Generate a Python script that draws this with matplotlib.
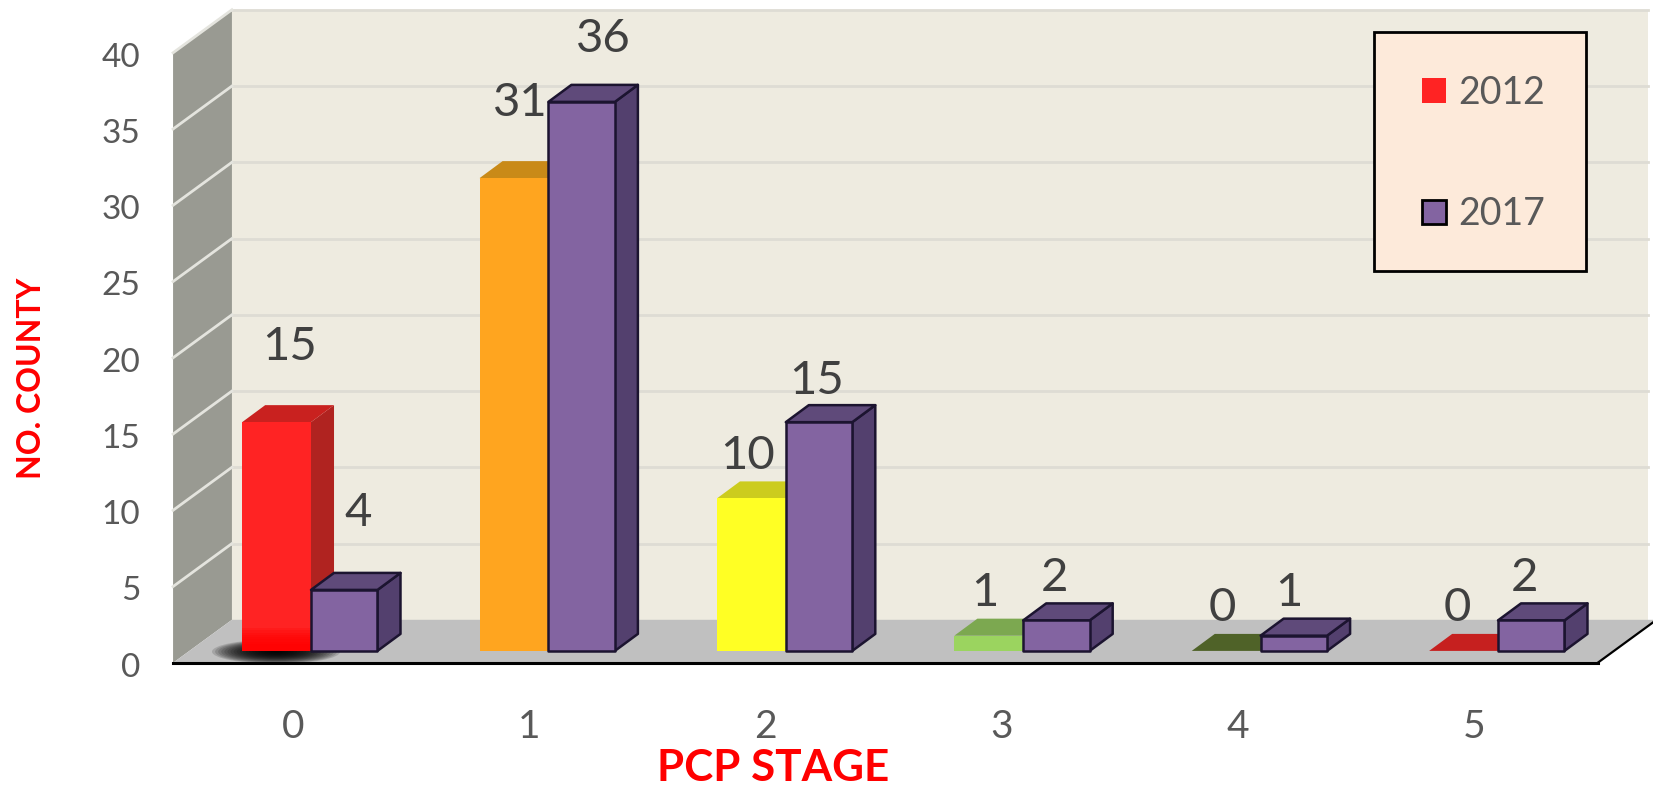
import matplotlib
matplotlib.use('Agg')
import matplotlib.pyplot as plt
from matplotlib.patches import Polygon, Patch, Ellipse, Rectangle

plt.rcParams['font.family'] = ['Lato', 'DejaVu Sans']

# data
stages = [0, 1, 2, 3, 4, 5]
y_2012 = [15, 31, 10, 1, 0, 0]
y_2017 = [4, 36, 15, 2, 1, 2]
y_ticks = [0, 5, 10, 15, 20, 25, 30, 35, 40]

# value labels are placed by hand, like in the original
label_x_2012 = [-0.09, 0.88, 1.84, 2.84, 3.84, 4.83]
label_h_2012 = [19.95, 35.95, 12.8, 3.8, 2.8, 2.8]
label_x_2017 = [0.20, 1.23, 2.13, 3.13, 4.12, 5.11]
label_h_2017 = [9.05, 40.1, 17.7, 4.8, 3.8, 4.8]

# colours of the 2012 bars: front, top, side
front_2012 = ['#FF2323', '#FFA51F', '#FFFF24', '#9BD45F', '#4F6228', '#C6201F']
top_2012 = ['#C9211F', '#C98A18', '#CCCC1E', '#7CA850', '#4F6228', '#C6201F']
side_2012 = ['#B02320', '#B07A15', '#B0B01A', '#6C9440', '#4F6228', '#C6201F']

front_2017 = '#8364A1'
top_2017 = '#5F4A7A'
side_2017 = '#53406E'
edge_2017 = '#1C1430'
text_col = '#595959'
label_col = '#404040'

bar_w = 0.28
bar_w_2012 = 0.29
bar_dx = 0.097  # depth of a bar
bar_dy = 1.115
wall_dx = 0.248  # depth of the floor
wall_dy = 2.82
x0 = -0.581
x1 = 5.42
y0 = -0.78

fig = plt.figure(figsize=(16.53, 7.9), dpi=100)
ax = fig.add_axes([0, 0, 1, 1])
ax.set_xlim(-1.31, 5.653)
ax.set_ylim(-9.12, 42.68)
ax.set_axis_off()

# walls and floor
ax.add_patch(Polygon([(x0, y0), (x0 + wall_dx, y0 + wall_dy), (x0 + wall_dx, y0 + wall_dy + 40), (x0, y0 + 40)],
                     facecolor='#999A92', edgecolor='none'))
ax.add_patch(Polygon([(x0 + wall_dx, y0 + wall_dy), (5.632, y0 + wall_dy), (5.632, y0 + wall_dy + 40), (x0 + wall_dx, y0 + wall_dy + 40)],
                     facecolor='#EEEBE0', edgecolor='none'))
floor = ax.add_patch(Polygon([(x0, y0), (x1, y0), (x1 + wall_dx, y0 + wall_dy), (x0 + wall_dx, y0 + wall_dy)],
                             facecolor='#C0C0C0', edgecolor='none'))
for t in y_ticks[1:]:
    ax.plot([x0 + wall_dx, 5.632], [y0 + wall_dy + t, y0 + wall_dy + t], color='#DEDCD4', lw=2, zorder=2)
    ax.plot([x0, x0 + wall_dx], [y0 + t, y0 + wall_dy + t], color='#E4E4DE', lw=2, zorder=2)
ax.plot([x0, x1], [y0, y0], color='black', lw=2.2, zorder=3)
ax.plot([x1, x1 + wall_dx], [y0, y0 + wall_dy], color='black', lw=1.6, zorder=3)

# shadow under the first bar
for i in range(20):
    k = 1 - i / 20
    e = ax.add_patch(Ellipse((-0.147, -0.05), 0.52 * k + 0.02, 1.5 * k + 0.1, facecolor='black', alpha=0.14,
                             edgecolor='none', zorder=2.5))
    e.set_clip_path(floor)


def draw_bar(left, width, h, front, top, side, edge=None, z=5):
    right = left + width
    ec = edge if edge else 'none'
    ax.add_patch(Polygon([(right, 0), (right + bar_dx, bar_dy), (right + bar_dx, h + bar_dy), (right, h)],
                         facecolor=side, edgecolor=ec, lw=1.8, zorder=z, joinstyle='round'))
    ax.add_patch(Polygon([(left, h), (right, h), (right + bar_dx, h + bar_dy), (left + bar_dx, h + bar_dy)],
                         facecolor=top, edgecolor=ec, lw=1.8, zorder=z, joinstyle='round'))
    ax.add_patch(Polygon([(left, 0), (right, 0), (right, h), (left, h)],
                         facecolor=front, edgecolor=ec, lw=1.8, zorder=z, joinstyle='round'))


for i, s in enumerate(stages):
    draw_bar(s - bar_w_2012, bar_w_2012, y_2012[i], front_2012[i], top_2012[i], side_2012[i], z=5)

# brighter foot of the red bar
for i in range(8):
    ax.add_patch(Rectangle((stages[0] - bar_w_2012, 0), bar_w_2012, 1.5 - i * 0.15, facecolor='#FF0000', alpha=0.22,
                           edgecolor='none', zorder=5.5))

for i, s in enumerate(stages):
    draw_bar(s, bar_w, y_2017[i], front_2017, top_2017, side_2017, edge=edge_2017, z=6)

# value labels
for i in range(len(stages)):
    ax.text(label_x_2012[i], label_h_2012[i], str(y_2012[i]), fontsize=34, color=label_col,
            ha='center', va='center', zorder=8)
    ax.text(label_x_2017[i], label_h_2017[i], str(y_2017[i]), fontsize=34, color=label_col,
            ha='center', va='center', zorder=8)

# tick labels
for t in y_ticks:
    ax.text(-0.72, y0 + t - 0.32, str(t), fontsize=24, color=text_col, ha='right', va='center')
for s in stages:
    ax.text(s * 0.995 - 0.076, -5.0, str(s), fontsize=28, color=text_col, ha='center', va='center')

# axis titles
ax.text(-1.179, 17.89, 'NO. COUNTY', fontsize=23, fontweight='bold', color='#FF0000',
        rotation=90, ha='center', va='center')
ax.text(1.946, -7.67, 'PCP STAGE', fontsize=31.7, fontweight='bold', color='#FF0000',
        ha='center', va='center')

# legend, the box is drawn apart so that it can be sized freely
ax.add_patch(Rectangle((4.476, 24.91), 0.895, 15.67, facecolor='#FDEADA', edgecolor='black', lw=2, zorder=8.5))
handles = [Patch(facecolor='#FF2323', edgecolor='none', label='2012'),
           Patch(facecolor=front_2017, edgecolor='black', linewidth=2, label='2017')]
leg = ax.legend(handles=handles, loc='upper left', bbox_to_anchor=(4.68, 37.76), bbox_transform=ax.transData,
                borderaxespad=0, fontsize=27, labelcolor=text_col, frameon=False,
                handlelength=0.645, handleheight=0.645,
                handletextpad=0.32, labelspacing=2.27, borderpad=0)
leg.set_zorder(9)

fig.savefig('out.png', dpi=100)
